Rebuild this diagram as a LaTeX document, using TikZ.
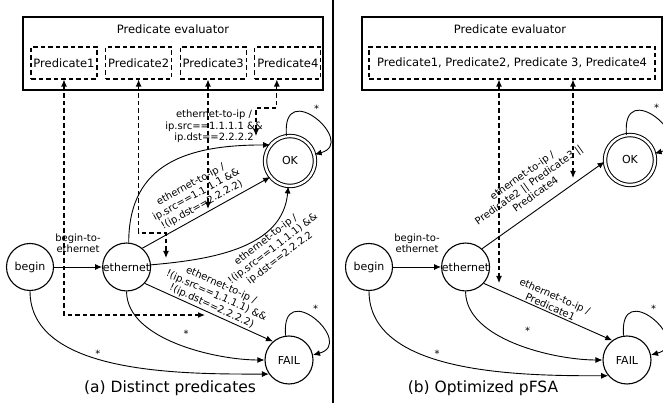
\documentclass[tikz,border=0pt]{standalone}
\usepackage{fontspec}
\setmainfont{DejaVu Sans}
\usetikzlibrary{positioning}
\usetikzlibrary{arrows.meta}

\tikzset{
	stnode/.style = {draw, circle, line width=1.1pt, minimum size=47pt, inner sep=0pt, font=\fontsize{11}{13}\selectfont},
	okstate/.style = {stnode, double, double distance=2.4pt, line width=1pt, minimum size=50pt},
	tr/.style = {-{Latex[length=7pt,width=6pt]}, line width=0.9pt},
	probe/.style = {{Latex[length=7pt,width=6pt]}-{Latex[length=7pt,width=6pt]}, line width=1.1pt, dash pattern=on 4.5pt off 3pt},
	lbl/.style = {font=\fontsize{10}{11.5}\selectfont, align=center, inner sep=1.5pt},
	evalbox/.style = {draw, line width=1.3pt, minimum width=300pt, minimum height=73pt, inner sep=0pt},
	predbox/.style = {draw, line width=1.1pt, dash pattern=on 4.5pt off 3pt, minimum height=32pt, inner sep=0pt, font=\fontsize{11.5}{13}\selectfont},
	title/.style = {font=\fontsize{11.5}{13}\selectfont},
	caption/.style = {font=\fontsize{15.5}{18}\selectfont}
}

\begin{document}
\begin{tikzpicture}[x=1pt, y=1pt, node distance = 48pt]
		\useasboundingbox (0,0) rectangle (663,403);
		\clip (0,0) rectangle (663,403);

		% (a)
		\node[evalbox] (ev) at (173,349.5) {};
		\node[title] (evt) at (173,374) {Predicate evaluator};
		\node[predbox, minimum width=66pt] (P1) at (64,340) {Predicate1};
		\node[predbox, minimum width=66pt, right = 7.5pt of P1] (P2) {Predicate2};
		\node[predbox, minimum width=66pt, right = 7.5pt of P2] (P3) {Predicate3};
		\node[predbox, minimum width=66pt, right = 7.5pt of P3] (P4) {Predicate4};

		\node[stnode] (begin) at (30,136) {begin};
		\node[stnode, right = of begin] (eth) {ethernet};
		\node[okstate] (ok) at (290,242) {OK};
		\node[stnode, minimum size=48pt] (fail) at (289,43) {FAIL};

		\draw[tr] (begin) -- node[lbl, above=12pt] {begin-to-\\ethernet} (eth);
		\draw[tr] (begin.-90) to[out=-90, in=180, looseness=0.85] node[lbl, pos=0.43, above] {*} (fail.-145);
		\draw[tr] (eth.-90) to[out=-90, in=180, looseness=0.8] node[lbl, pos=0.5, above right=6pt] {*} (fail.west);
		\draw[tr] (eth.-42) -- node[lbl, sloped, above] {ethernet-to-ip /\\!(ip.src==1.1.1.1) \&\&\\!(ip.dst==2.2.2.2)} (fail.131);
		\draw[tr] (eth.5) to[out=5, in=-95] node[lbl, sloped, below, pos=0.65] {ethernet-to-ip /\\!(ip.src==1.1.1.1) \&\&\\ip.dst==2.2.2.2} (ok.-94);
		\draw[tr] (eth.50) -- node[lbl, sloped, above=2pt] {ethernet-to-ip /\\ip.src==1.1.1.1 \&\&\\!(ip.dst==2.2.2.2)} (ok.-141);
		\draw[tr] (eth.85) to[out=90, in=180, looseness=1.2] node[lbl, pos=0.75, above=4pt] {ethernet-to-ip /\\ip.src==1.1.1.1 \&\&\\ip.dst==2.2.2.2} (ok.141);
		\draw[tr] (ok.98) .. controls +(95:60) and +(15:45) .. node[lbl, pos=0.45, above right=2pt] {*} (ok.15);
		\draw[tr] (fail.98) .. controls +(95:60) and +(15:45) .. node[lbl, pos=0.45, above right=2pt] {*} (fail.12);

		\coordinate (p1end) at (205,88);
		\coordinate (p2bend) at (166,170);
		\coordinate (p2end) at (166,145);
		\coordinate (p3end) at (208,194);
		\coordinate (p4bend) at (256,295);
		\coordinate (p4end) at (256,267);
		\draw[probe] (P1.south) |- (p1end);
		\draw[probe] (P2.south) |- (p2bend) -- (p2end);
		\draw[probe] (P3.south -| p3end) -- (p3end);
		\draw[probe] ([xshift=-11pt]P4.south) |- (p4bend) -- (p4end);

		\node[caption] (capA) at (170,15) {(a) Distinct predicates};

		\draw[line width=1.2pt] (333,0) -- (333,403);

		% (b)
		\node[evalbox] (evB) at (512,349.5) {};
		\node[title] (evtB) at (510,374) {Predicate evaluator};
		\node[predbox, minimum width=286pt] (PB) at (512,340) {Predicate1, Predicate2, Predicate 3, Predicate4};

		\node[stnode] (beginB) at (369,136) {begin};
		\node[stnode, right = of beginB] (ethB) {ethernet};
		\node[okstate] (okB) at (630,243) {OK};
		\node[stnode, minimum size=48pt] (failB) at (627,43) {FAIL};

		\draw[tr] (beginB) -- node[lbl, above=12pt] {begin-to-\\ethernet} (ethB);
		\draw[tr] (beginB.-90) to[out=-90, in=180, looseness=0.85] node[lbl, pos=0.43, above] {*} (failB.-140);
		\draw[tr] (ethB.-90) to[out=-90, in=180, looseness=0.8] node[lbl, pos=0.5, above right=10pt] {*} (failB.west);
		\draw[tr] (ethB.-42) -- node[lbl, sloped, above] {ethernet-to-ip /\\Predicate1} (failB.127);
		\draw[tr] (ethB.48) -- node[lbl, sloped, above=8pt] {ethernet-to-ip /\\Predicate2 || Predicate3 ||\\Predicate4} (okB.184);
		\draw[tr] (okB.98) .. controls +(95:60) and +(15:45) .. node[lbl, pos=0.45, above right=2pt] {*} (okB.15);
		\draw[tr] (failB.98) .. controls +(95:60) and +(15:45) .. node[lbl, pos=0.45, above right=2pt] {*} (failB.12);

		\coordinate (q1end) at (499,120);
		\coordinate (q2end) at (573,225);
		\draw[probe] (PB.south -| q1end) -- (q1end);
		\draw[probe] (PB.south -| q2end) -- (q2end);

		\node[caption] (capB) at (483,15) {(b) Optimized pFSA};
	\end{tikzpicture}
\end{document}
